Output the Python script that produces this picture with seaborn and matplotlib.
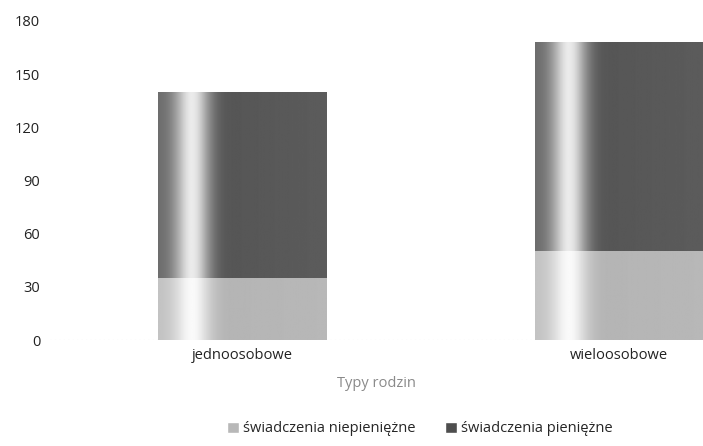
import numpy as np
import pandas as pd
import matplotlib.pyplot as plt
import seaborn as sns
from matplotlib.patches import Patch

sns.set_theme(style="white")
plt.rcParams['font.family'] = ['Open Sans', 'DejaVu Sans']

# data
typy = ['jednoosobowe', 'wieloosobowe']
niepieniezne = [35, 50]
pieniezne = [105, 118]
serie = ['świadczenia niepieniężne', 'świadczenia pieniężne']

df = pd.DataFrame({'typ': typy, 'niep': niepieniezne, 'pien': pieniezne})
df['razem'] = df['niep'] + df['pien']

fig = plt.figure(figsize=(7.03, 4.46), dpi=100)
ax = fig.add_axes([50 / 703, 106 / 446, 653 / 703, 319 / 446])

dark = '#4e4e4e'
light = '#b8b8b8'
sns.barplot(data=df, x='typ', y='razem', color=dark, width=0.446, ax=ax,
            saturation=1, linewidth=0)
sns.barplot(data=df, x='typ', y='niep', color=light, width=0.446, ax=ax,
            saturation=1, linewidth=0)

# scanned-looking gradient with a light vertical stripe
xs = np.linspace(0, 1, 300)
stripe = np.exp(-((xs - 0.2) / 0.1) ** 2)
n = len(typy)
for i, p in enumerate(ax.patches):
    x0, y0 = p.get_x(), p.get_y()
    w, h = p.get_width(), p.get_height()
    if i < n:
        base = 0.42 - 0.1 * np.clip((xs - 0.1) / 0.3, 0, 1) + 0.04 * xs
        prof = base + (0.92 - base) * stripe
    else:
        base = 0.76 - 0.06 * np.clip((xs - 0.1) / 0.3, 0, 1) + 0.02 * xs
        prof = base + (0.98 - base) * stripe
    im = ax.imshow(prof[None, :], extent=[x0, x0 + w, y0, y0 + h],
                   aspect='auto', cmap='gray', vmin=0, vmax=1,
                   zorder=p.get_zorder() + 0.1)
    im.set_clip_path(p)

ax.set_xlim(-0.509, 1.223)
ax.set_ylim(0, 180)
ax.set_yticks(range(0, 181, 30))
ax.tick_params(axis='both', length=0, labelsize=10.5, colors='#222222')
ax.tick_params(axis='y', pad=7)
ax.tick_params(axis='x', pad=6)
ax.set_xlabel('Typy rodzin', fontsize=10.5, color='#8a8a8a', labelpad=9)
ax.set_ylabel('')
sns.despine(ax=ax, left=True, bottom=True, top=True, right=True)
ax.axhline(0, color='#cccccc', lw=0.8, ls=(0, (1, 3)), zorder=0)

handles = [Patch(facecolor=light, label=serie[0]),
           Patch(facecolor=dark, label=serie[1])]
fig.legend(handles=handles, loc='center', bbox_to_anchor=(420 / 703, 17 / 446),
           ncol=2, frameon=False, fontsize=10.5, handlelength=0.8,
           handleheight=0.8, handletextpad=0.3, columnspacing=2.0)

fig.savefig('out.png', dpi=100)
